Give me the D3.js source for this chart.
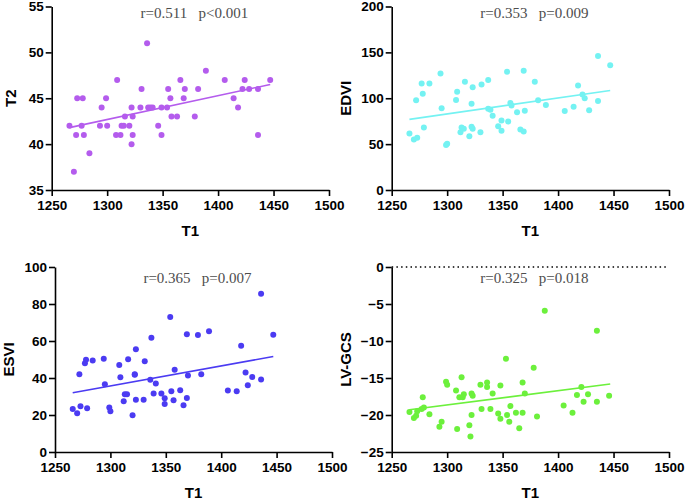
<!DOCTYPE html>
<html>
<head>
<meta charset="utf-8">
<script src="https://cdn.jsdelivr.net/npm/d3@7"></script>
<style>
  body { margin: 0; background: #fff; }
  .tick text { font-family: "Liberation Sans", Arial, sans-serif; font-weight: bold; font-size: 13.5px; fill: #000; }
  .axis path, .axis line { stroke: #000; stroke-width: 1.6px; }
  .title { font-family: "Liberation Sans", Arial, sans-serif; font-weight: bold; font-size: 15px; }
  .stat { font-family: "Liberation Serif", "Times New Roman", serif; font-size: 15px; fill: #4d4d4d; white-space: pre; }
</style>
</head>
<body>
<div class="chart"></div>
<script>
const xTicks = [1250, 1300, 1350, 1400, 1450, 1500];

// T1 vs T2
const t2Points = [
    [1266, 42], [1270, 37], [1272, 41], [1273, 45], [1277, 42], [1278, 45], [1279, 41], [1284, 39],
    [1293.5, 42], [1295, 44], [1299, 45], [1300, 42], [1308, 41], [1309, 47], [1312, 41], [1313, 42],
    [1315, 42], [1316, 43], [1320, 42], [1322, 44], [1322, 40], [1323, 43], [1323, 41], [1330, 44],
    [1331, 46], [1336, 51], [1337, 44], [1339, 44], [1341, 44], [1346, 42], [1349, 44], [1349, 41],
    [1354, 44], [1355, 46], [1357, 45], [1358, 43], [1363, 43], [1366, 47], [1369, 45], [1370, 46],
    [1379, 43], [1382, 46], [1389, 48], [1406, 47], [1414, 45], [1418, 44], [1422, 46], [1424, 47],
    [1428, 46], [1436, 46], [1436, 41], [1447, 47]
];

// T1 vs EDVI
const edviPoints = [
    [1266, 61.6], [1270, 55], [1272, 97.7], [1273, 57], [1277, 116], [1278, 105], [1279, 68], [1284, 116],
    [1294, 127], [1295, 89], [1299, 49], [1300, 50.5], [1308, 98], [1309, 107], [1312, 63], [1313, 68],
    [1315, 66.7], [1316, 118], [1320, 58.7], [1322, 94], [1322, 69], [1323, 112], [1323, 66.7], [1330, 63],
    [1331, 115], [1337, 88.6], [1337, 120], [1339, 87.6], [1341, 81], [1346, 69.5], [1349, 75.7], [1349, 64.5],
    [1354, 129], [1355, 74.6], [1357, 94.8], [1358, 92], [1363, 84.7], [1366, 66], [1369, 63.8], [1369, 130],
    [1370, 86.5], [1379, 118], [1382, 97.7], [1389, 92.6], [1406, 86], [1414, 90.8], [1418, 114], [1422, 104],
    [1424, 100], [1428, 86.8], [1436, 146], [1436, 97], [1447, 136]
];

// T1 vs ESVI
const esviPoints = [
    [1266, 23.3], [1270, 21], [1272, 42], [1273, 24.7], [1277, 48], [1278, 49.8], [1279, 23.6], [1284, 49.5],
    [1294, 50.4], [1295, 36.6], [1299, 24], [1300, 22], [1308, 47], [1309, 40.4], [1312, 27.4], [1313, 31.2],
    [1315, 31.2], [1316, 50.2], [1320, 19.9], [1322, 42], [1322, 41.7], [1323, 55.6], [1323, 28.3], [1330, 28.2],
    [1331, 49.1], [1336, 39], [1337, 61.7], [1339, 31.6], [1341, 37], [1346, 31.6], [1349, 29], [1349, 26],
    [1354, 73], [1355, 32.9], [1357, 28], [1358, 44.4], [1363, 33.4], [1366, 25.3], [1369, 29.2], [1369, 63.7],
    [1370, 41.3], [1379, 63.2], [1382, 42], [1389, 65.3], [1406, 33.2], [1414, 32.9], [1418, 57.4], [1422, 43],
    [1424, 36.1], [1428, 40.6], [1436, 85.6], [1436, 39.2], [1447, 63.4]
];

// T1 vs LV-GCS
const gcsPoints = [
    [1266, -19.6], [1270, -20.4], [1272, -20.1], [1273, -19.5], [1277, -19.2], [1278, -17.6], [1279, -19.0], [1284, -19.9],
    [1293, -21.6], [1295, -20.9], [1299, -15.5], [1300, -15.9], [1308, -16.7], [1309, -21.9], [1311, -17.6], [1313, -14.9],
    [1314, -17.6], [1315, -17.2], [1320, -21.4], [1321, -22.9], [1322, -20], [1322, -17.1], [1323, -17.4], [1330, -15.9],
    [1331, -19.2], [1336, -16.2], [1336, -15.6], [1339, -19.2], [1341, -17.1], [1346, -19.8], [1348, -16.0], [1348, -20.5],
    [1353, -12.4], [1354, -20.0], [1356, -20.9], [1357, -18.8], [1362, -19.7], [1365, -21.8], [1368, -15.6], [1368, -19.7],
    [1370, -17.1], [1378, -13.6], [1381, -20.2], [1388, -5.9], [1405, -18.7], [1413, -19.7], [1417, -17.3], [1421, -16.2],
    [1423, -18.2], [1427, -17.2], [1435, -8.6], [1435, -18.2], [1446, -17.4]
];

// fitted regression line endpoints [T1, value]
const t2Fit = [[1266, 41.8], [1447, 46.5]];
const edviFit = [[1266, 77.0], [1447, 108.5]];
const esviFit = [[1266, 32.0], [1447, 51.6]];
const gcsFit = [[1266, -19.3], [1447, -15.8]];

const yLabels = ['T2', 'EDVI', 'ESVI', 'LV-GCS'];
const yDomains = [[35, 55], [0, 200], [0, 100], [-25, 0]];
const yTickStep = [5, 50, 20, 5];
const stats = ['r=0.511   p<0.001', 'r=0.353   p=0.009', 'r=0.365   p=0.007', 'r=0.325   p=0.018'];
const colors = ['#b45ced', '#74f2f2', '#4b3bf2', '#6cf03c'];

const panels = [
    { pts: t2Points, fit: t2Fit, x0: 51.7, x1: 329, yTop: 6.5, yBot: 190, labelX: 11, statY: 18 },
    { pts: edviPoints, fit: edviFit, x0: 391.7, x1: 669, yTop: 6.5, yBot: 190, labelX: 346, statY: 18 },
    { pts: esviPoints, fit: esviFit, x0: 55, x1: 332, yTop: 267, yBot: 452, labelX: 9, statY: 283 },
    { pts: gcsPoints, fit: gcsFit, x0: 391.7, x1: 669, yTop: 267, yBot: 452, labelX: 346, statY: 283 }
];

const svg = d3.select('.chart')
    .append('svg')
        .attr('width', 685)
        .attr('height', 500);

panels.forEach((p, i) => {
    const xScale = d3.scaleLinear().domain([1250, 1500]).range([p.x0, p.x1]);
    const yScale = d3.scaleLinear().domain(yDomains[i]).range([p.yBot, p.yTop]);
    const g = svg.append('g');

    // dotted zero line (LV-GCS only)
    if (i === 3) {
        g.append('line')
            .attr('x1', xScale(1250)).attr('x2', xScale(1500))
            .attr('y1', yScale(0)).attr('y2', yScale(0))
            .attr('stroke', '#000')
            .attr('stroke-width', 1.5)
            .attr('stroke-dasharray', '1.5,3.2');
    }

    const yAxis = d3.axisLeft(yScale)
        .tickValues(d3.range(yDomains[i][0], yDomains[i][1] + 0.01, yTickStep[i]))
        .tickSize(6)
        .tickPadding(2)
        .tickSizeOuter(0);

    const xAxis = d3.axisBottom(xScale)
        .tickValues(xTicks)
        .tickFormat(d3.format('d'))
        .tickSize(6)
        .tickPadding(4)
        .tickSizeOuter(0);

    g.append('g')
        .attr('class', 'axis')
        .attr('transform', `translate(${p.x0}, 0)`)
        .call(yAxis);

    g.append('g')
        .attr('class', 'axis')
        .attr('transform', `translate(0, ${p.yBot})`)
        .call(xAxis);

    g.append('line')
        .attr('x1', xScale(p.fit[0][0])).attr('y1', yScale(p.fit[0][1]))
        .attr('x2', xScale(p.fit[1][0])).attr('y2', yScale(p.fit[1][1]))
        .attr('stroke', colors[i])
        .attr('stroke-width', 1.6);

    g.selectAll('circle')
        .data(p.pts)
        .enter()
        .append('circle')
            .attr('cx', d => xScale(d[0]))
            .attr('cy', d => yScale(d[1]))
            .attr('r', 3)
            .attr('fill', colors[i]);

    g.append('text')
        .attr('class', 'stat')
        .attr('x', (p.x0 + p.x1) / 2 + 4)
        .attr('y', p.statY)
        .attr('text-anchor', 'middle')
        .text(stats[i]);

    g.append('text')
        .attr('class', 'title')
        .attr('x', (p.x0 + p.x1) / 2)
        .attr('y', p.yBot + 46)
        .attr('text-anchor', 'middle')
        .text('T1');

    g.append('text')
        .attr('class', 'title')
        .attr('transform', `translate(${p.labelX}, ${(p.yTop + p.yBot) / 2}) rotate(-90)`)
        .attr('dy', '0.35em')
        .attr('text-anchor', 'middle')
        .text(yLabels[i]);
});
</script>
</body>
</html>
